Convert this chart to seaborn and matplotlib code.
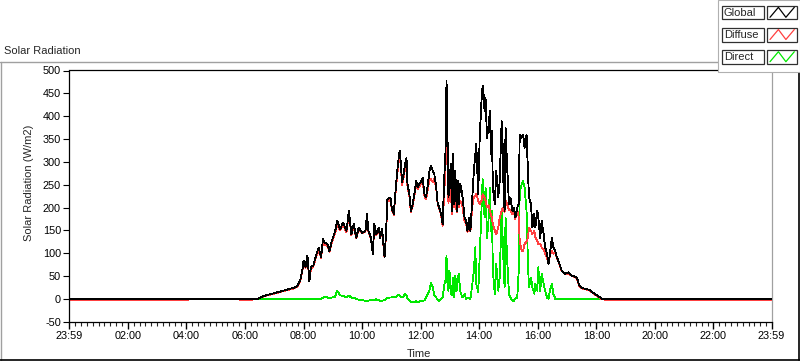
import matplotlib
matplotlib.use("Agg")
import matplotlib.pyplot as plt
import matplotlib.colors as mcolors
import seaborn as sns
import pandas as pd
from matplotlib.lines import Line2D
from matplotlib.patches import Rectangle

# ---------------- data ----------------
time_hhmm = [
    "00:00", "04:04", "04:06", "05:48", "05:50", "06:15", "06:17", "06:27", "06:37", "06:58",
    "07:12", "07:26", "07:39", "07:47", "07:53", "07:58", "08:00", "08:04", "08:08", "08:12",
    "08:15", "08:20", "08:27", "08:31", "08:36", "08:40", "08:42", "08:49", "08:53", "08:58",
    "09:05", "09:09", "09:15", "09:21", "09:28", "09:33", "09:38", "09:43", "09:48", "09:53",
    "10:00", "10:07", "10:10", "10:13", "10:18", "10:22", "10:25", "10:29", "10:34", "10:37",
    "10:41", "10:46", "10:49", "10:52", "10:58", "11:01", "11:05", "11:08", "11:12", "11:15",
    "11:17", "11:19", "11:22", "11:25", "11:28", "11:31", "11:33", "11:37", "11:40", "11:44",
    "11:46", "11:49", "11:51", "11:54", "11:57", "12:01", "12:04", "12:08", "12:11", "12:14",
    "12:18", "12:21", "12:25", "12:28", "12:32", "12:35", "12:38", "12:42", "12:45", "12:49",
    "12:51", "12:53", "12:54", "12:55", "12:57", "12:59", "13:02", "13:04", "13:06", "13:09",
    "13:11", "13:14", "13:16", "13:18", "13:21", "13:23", "13:26", "13:30", "13:33", "13:36",
    "13:39", "13:42", "13:46", "13:49", "13:52", "13:54", "13:58", "14:01", "14:05", "14:07",
    "14:09", "14:11", "14:13", "14:16", "14:19", "14:22", "14:24", "14:26", "14:28", "14:32",
    "14:35", "14:39", "14:42", "14:46", "14:48", "14:50", "14:52", "14:54", "14:57", "15:01",
    "15:04", "15:08", "15:11", "15:14", "15:18", "15:21", "15:23", "15:27", "15:30", "15:33",
    "15:37", "15:40", "15:42", "15:46", "15:49", "15:53", "15:55", "15:59", "16:01", "16:05",
    "16:08", "16:12", "16:15", "16:19", "16:22", "16:25", "16:29", "16:32", "16:36", "16:39",
    "16:42", "16:49", "16:56", "17:03", "17:10", "17:20", "17:25", "17:30", "17:45", "17:55",
    "18:05", "18:12", "18:20", "23:59",
]

global_wm2 = [
    0, 0, 0, 0, 0, 0, 0, 0, 6, 12,
    16, 20, 24, 28, 40, 66, 84, 70, 95, 38,
    70, 73, 100, 112, 92, 132, 124, 120, 105, 127,
    149, 171, 153, 167, 149, 193, 142, 164, 134, 156,
    145, 149, 186, 149, 134, 99, 164, 142, 156, 134,
    153, 91, 142, 219, 222, 197, 186, 230, 280, 309,
    324, 302, 255, 273, 295, 309, 251, 229, 193, 208,
    222, 244, 258, 244, 251, 258, 265, 229, 222, 244,
    280, 291, 280, 273, 244, 208, 200, 186, 164, 280,
    324, 477, 426, 353, 222, 258, 295, 193, 317, 208,
    280, 193, 258, 208, 251, 244, 222, 178, 171, 149,
    178, 149, 222, 280, 316, 339, 229, 353, 440, 466,
    447, 411, 440, 353, 375, 411, 316, 367, 244, 208,
    280, 222, 258, 389, 339, 236, 193, 375, 295, 208,
    222, 193, 200, 178, 200, 208, 360, 353, 360, 331,
    360, 280, 222, 208, 156, 186, 156, 193, 180, 134,
    171, 142, 113, 99, 76, 99, 134, 113, 105, 91,
    84, 62, 55, 58, 51, 47, 30, 24, 20, 12,
    5, 0, 0, 0,
]

diffuse_wm2 = [
    -2, -2, 0, 0, -2, -2, 0, 0, 5, 11,
    15, 19, 22, 26, 38, 64, 80, 68, 90, 38,
    66, 70, 96, 106, 90, 125, 120, 116, 103, 124,
    145, 163, 150, 162, 146, 188, 140, 160, 132, 152,
    143, 147, 180, 147, 132, 99, 158, 140, 152, 133,
    150, 91, 140, 214, 216, 195, 184, 225, 272, 300,
    312, 296, 248, 266, 285, 298, 246, 225, 190, 205,
    218, 240, 250, 240, 246, 252, 258, 225, 218, 236,
    262, 262, 256, 262, 240, 205, 198, 183, 160, 250,
    290, 353, 340, 300, 210, 229, 240, 185, 230, 200,
    215, 190, 205, 200, 215, 210, 200, 170, 165, 146,
    172, 148, 205, 222, 225, 230, 215, 208, 215, 229,
    225, 222, 215, 200, 205, 193, 185, 178, 164, 149,
    142, 156, 178, 193, 200, 195, 190, 215, 208, 195,
    193, 186, 190, 175, 195, 178, 127, 105, 105, 120,
    125, 134, 156, 149, 142, 149, 134, 127, 120, 120,
    113, 108, 99, 91, 76, 97, 105, 99, 103, 90,
    83, 61, 54, 56, 50, 45, 28, 23, 19, 11,
    4, -1, -2, -2,
]

direct_wm2 = [
    0, 0, 0, 0, 0, 0, 0, 0, 0, 0,
    0, 0, 0, 0, 0, 0, 0, 0, 0, 0,
    0, 0, 0, 0, 0, 2, 5, 3, 2, 3,
    5, 18, 8, 6, 4, 7, 3, 2, 0, -2,
    -3, -4, -4, -4, -3, -2, -2, -1, -3, -4,
    -4, -3, 0, 2, 3, 3, 5, 4, 6, 9,
    7, 5, 3, 6, 11, 8, 0, -4, -6, -7,
    -6, -6, -5, -7, -6, -5, -5, -3, 2, 10,
    18, 36, 25, 8, 3, -3, -4, 0, 3, 33,
    40, 95, 60, 33, 18, 62, 11, 8, 47, 3,
    51, 18, 40, 55, 18, 10, 3, 11, 0, 3,
    3, 0, 33, 60, 113, 33, 15, 91, 207, 262,
    222, 178, 244, 134, 171, 244, 149, 193, 62, 11,
    76, 18, 47, 193, 134, 76, 25, 178, 91, 11,
    3, -4, -4, 0, 3, 62, 236, 251, 258, 244,
    193, 76, 25, 47, 25, 11, 33, 18, 69, 18,
    55, 33, 18, 3, 0, 18, 33, 11, 0, 0,
    0, 0, 0, 0, 0, 0, 0, 0, 0, 0,
    0, 0, 0, 0,
]

series_names = ["Global", "Diffuse", "Direct"]
series_colors = ["#000000", "#ff4040", "#00e800"]
x_tick_labels = ["23:59", "02:00", "04:00", "06:00", "08:00", "10:00", "12:00",
                 "14:00", "16:00", "18:00", "20:00", "22:00", "23:59"]
y_ticks = [-50, 0, 50, 100, 150, 200, 250, 300, 350, 400, 450, 500]


def to_minutes(s):
    h, m = s.split(":")
    return int(h) * 60 + int(m)


minutes = [to_minutes(t) for t in time_hhmm]
frames = []
for name, vals in zip(series_names, [global_wm2, diffuse_wm2, direct_wm2]):
    frames.append(pd.DataFrame({"minute": minutes, "value": vals, "series": name}))
df = pd.concat(frames, ignore_index=True)

# ---------------- figure ----------------
sns.set_style("white")
plt.rcParams["font.family"] = ["Liberation Sans", "DejaVu Sans"]

W, H = 800, 361
fig = plt.figure(figsize=(W / 100, H / 100), dpi=100)
fig.patch.set_facecolor("white")

px_l, px_r, px_t, px_b = 69.3, 771.5, 70.5, 321.7
ax = fig.add_axes([px_l / W, 1 - px_b / H, (px_r - px_l) / W, (px_b - px_t) / H])

palette = dict(zip(series_names, series_colors))
sns.lineplot(data=df, x="minute", y="value", hue="series",
             hue_order=["Direct", "Diffuse", "Global"], palette=palette,
             estimator=None, sort=True, linewidth=0.6, legend=False, ax=ax)

# stacking: Global on top, Diffuse beneath, Direct at the bottom; crisp pixel lines
z_for = {mcolors.to_hex(c): z for c, z in zip(series_colors, [2.6, 2.4, 2.2])}
for ln in ax.get_lines():
    hx = mcolors.to_hex(ln.get_color())
    if hx in z_for:
        ln.set_zorder(z_for[hx])
        ln.set_antialiased(False)

ax.set_xlim(0, 1439)
ax.set_ylim(-50, 500)
ax.set_xlabel("")
ax.set_ylabel("")
ax.set_facecolor("white")

ax.set_xticks([0] + [120 * i for i in range(1, 12)] + [1439])
ax.set_xticklabels(x_tick_labels)
ax.set_xticks([12 * i for i in range(0, 120) if i % 10 != 0], minor=True)
ax.set_yticks(y_ticks)
ax.set_yticklabels([str(v) for v in y_ticks])

ax.tick_params(axis="x", which="major", direction="out", length=5, width=1.0,
               pad=2, labelsize=7.8, colors="black", bottom=True)
ax.tick_params(axis="x", which="minor", direction="out", length=3, width=0.8,
               bottom=True)
ax.tick_params(axis="y", which="major", direction="out", length=4, width=0.8,
               pad=2, labelsize=7.8, colors="black", left=True)

for side in ["left", "bottom", "top"]:
    ax.spines[side].set_color("black")
    ax.spines[side].set_linewidth(0.9)
ax.spines["right"].set_color("#a0a0a0")
ax.spines["right"].set_linewidth(0.9)

# titles / labels
fig.text(4 / W, 1 - 54.3 / H, "Solar Radiation", fontsize=8, va="baseline", ha="left")
fig.text(29 / W, 1 - 183 / H, "Solar Radiation (W/m2)", fontsize=8, rotation=90,
         va="center", ha="center")
fig.text(419 / W, 1 - 354 / H, "Time", fontsize=8, va="center", ha="center")

# outer frame (3D panel look)
def fline(x0, y0, x1, y1, color, lw=1.0, z=4):
    fig.add_artist(Line2D([x0 / W, x1 / W], [1 - y0 / H, 1 - y1 / H],
                          transform=fig.transFigure, color=color, lw=lw, zorder=z))

fline(0, 61.5, 717.5, 61.5, "#a0a0a0")
fline(0.8, 61.5, 0.8, 359.5, "#a0a0a0")
fline(0, 359.5, 800, 359.5, "#000000", lw=1.2)
fline(799.2, 71.7, 799.2, 360, "#000000", lw=1.2)

# legend panel
fig.add_artist(Rectangle((717.5 / W, 1 - 71.7 / H), (800 - 717.5) / W, 71.7 / H,
                         transform=fig.transFigure, facecolor="white",
                         edgecolor="#b0b0b0", lw=0.8, zorder=5))
box_h = 13.3
for i, (name, col) in enumerate(zip(series_names, series_colors)):
    top = 6.0 + 22.2 * i
    fig.add_artist(Rectangle((721.7 / W, 1 - (top + box_h) / H), (764 - 721.7) / W, box_h / H,
                             transform=fig.transFigure, facecolor="white",
                             edgecolor="#303030", lw=0.9, zorder=6))
    fig.add_artist(Rectangle((767.3 / W, 1 - (top + box_h) / H), (797.3 - 767.3) / W, box_h / H,
                             transform=fig.transFigure, facecolor="white",
                             edgecolor="#303030", lw=0.9, zorder=6))
    fig.text(724 / W, 1 - (top + box_h / 2 + 0.3) / H, name, fontsize=8,
             va="center", ha="left", zorder=7)
    fx = [0.09, 0.37, 0.62, 0.90]
    fy = [0.85, 0.10, 0.85, 0.10]
    fig.add_artist(Line2D([(767.3 + f * 30) / W for f in fx],
                          [1 - (top + g * box_h) / H for g in fy],
                          transform=fig.transFigure, color=col, lw=0.9, zorder=7))

fig.savefig("out.png", dpi=100, facecolor="white")
